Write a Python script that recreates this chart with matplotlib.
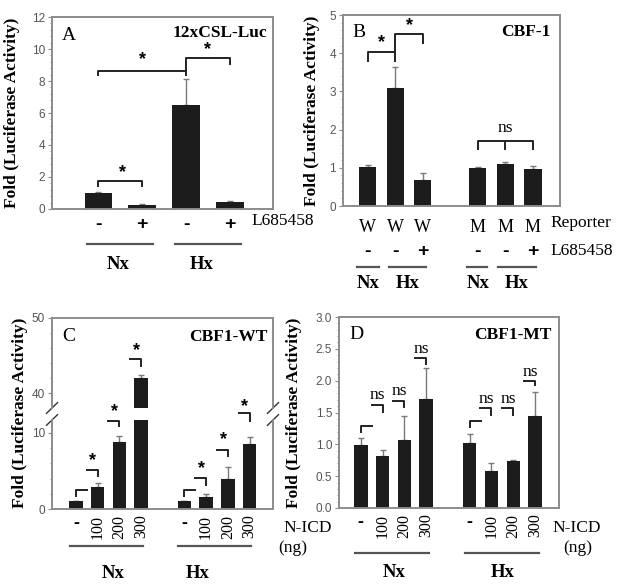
import matplotlib
matplotlib.use('Agg')
import matplotlib.pyplot as plt
from matplotlib.ticker import MultipleLocator, AutoMinorLocator
import matplotlib.transforms as mtransforms

# ---- data ----
a_pos = [0, 1, 2, 3]
a_drug = ['-', '+', '-', '+']
a_means = [1.0, 0.25, 6.5, 0.45]
a_errs = [0.07, 0.05, 1.6, 0.06]

b_pos = [0, 1, 2, 4, 5, 6]
b_reporter = ['W', 'W', 'W', 'M', 'M', 'M']
b_drug = ['-', '-', '+', '-', '-', '+']
b_means = [1.03, 3.1, 0.68, 1.0, 1.1, 0.96]
b_errs = [0.05, 0.54, 0.18, 0.02, 0.04, 0.09]

cd_pos = [0, 1, 2, 3, 5, 6, 7, 8]
cd_dose = ['-', '100', '200', '300', '-', '100', '200', '300']
c_means = [1.0, 2.9, 8.8, 42.0, 1.0, 1.6, 4.0, 8.6]
c_errs = [0.1, 0.5, 0.8, 0.4, 0.1, 0.4, 1.5, 0.9]
d_means = [0.99, 0.82, 1.07, 1.71, 1.02, 0.58, 0.74, 1.45]
d_errs = [0.11, 0.09, 0.38, 0.49, 0.14, 0.12, 0.01, 0.37]

# bracket heights: (horizontal, leg end, label) per bar; control bars have no label
c_brackets = [(2.5, 1.6, None), (5.1, 4.2, 6.3), (11.6, 10.8, 12.8), (44.5, 43.5, 45.7),
              (2.5, 1.6, None), (4.1, 3.0, 5.3), (7.8, 6.8, 9.1), (12.6, 11.4, 13.4)]
d_brackets = [(1.29, 1.18, None), (1.62, 1.49, 1.77), (1.68, 1.57, 1.84), (2.35, 2.24, 2.5),
              (1.37, 1.26, None), (1.57, 1.44, 1.71), (1.57, 1.44, 1.71), (2.0, 1.92, 2.13)]

SERIF = 'Liberation Serif'
SANS = 'Liberation Sans'
BAR = '#1c1c1c'
SPINE = '#8c8c8c'
ERR = '#7a7a7a'
FS = 12.5

plt.rcParams['font.family'] = SANS

fig = plt.figure(figsize=(6.24, 5.87), dpi=100)


def px(l, t, r, b):
    W, H = 624.0, 587.0
    return [l / W, 1 - b / H, (r - l) / W, (b - t) / H]


def style(ax, major, minor_n=5):
    for s in ax.spines.values():
        s.set_color(SPINE)
        s.set_linewidth(1.4)
    ax.yaxis.set_major_locator(MultipleLocator(major))
    ax.yaxis.set_minor_locator(AutoMinorLocator(minor_n))
    ax.tick_params(axis='y', which='major', length=3, color=SPINE, labelsize=8.5,
                   labelcolor='#555555', pad=2)
    ax.tick_params(axis='y', which='minor', length=1.5, color=SPINE)
    ax.tick_params(axis='x', length=0)


def bars(ax, pos, means, errs, width=0.62):
    ax.bar(pos, means, width=width, color=BAR, zorder=2)
    ax.errorbar(pos, means, yerr=[[0] * len(errs), errs], fmt='none', ecolor=ERR,
                elinewidth=1.0, capsize=2.5, capthick=1.0, zorder=1)


def line(ax, xs, ys, **kw):
    ax.plot(xs, ys, color='#222222', lw=1.4, clip_on=False, solid_capstyle='butt', **kw)


def star(ax, x, y, s='*'):
    if s == '*':
        ax.text(x, y, s, ha='center', va='center', fontsize=13, fontweight='bold',
                family=SANS, clip_on=False)
    else:
        ax.text(x, y, s, ha='center', va='center', fontsize=FS, family=SERIF, clip_on=False)


def group_line(ax, x0, x1, y):
    trans = mtransforms.blended_transform_factory(ax.transData, ax.transAxes)
    ax.plot([x0, x1], [y, y], color='#555555', lw=1.6, transform=trans, clip_on=False)


def group_text(ax, x, y, s, **kw):
    trans = mtransforms.blended_transform_factory(ax.transData, ax.transAxes)
    kw.setdefault('ha', 'center')
    kw.setdefault('family', SERIF)
    ax.text(x, y, s, transform=trans, va='center', **kw)


# ---------------- Panel A ----------------
axA = fig.add_axes(px(52, 17, 273, 209))
bars(axA, a_pos, a_means, a_errs)
axA.set_xlim(-1.05, 3.98)
axA.set_ylim(0, 12)
style(axA, 2)
axA.set_xticks(a_pos)
axA.set_xticklabels(a_drug, fontsize=14, fontweight='bold', family=SANS)
axA.tick_params(axis='x', pad=5)
axA.set_ylabel('Fold (Luciferase Activity)', family=SERIF, fontweight='bold', fontsize=FS)
axA.yaxis.set_label_coords(-0.145, 0.5)
axA.text(0.045, 0.905, 'A', transform=axA.transAxes, family=SERIF, fontsize=14, va='center')
axA.text(0.975, 0.915, '12xCSL-Luc', transform=axA.transAxes, family=SERIF, fontsize=FS,
         fontweight='bold', ha='right', va='center')
line(axA, [0, 0, 1, 1], [1.4, 1.75, 1.75, 1.4])
star(axA, 0.55, 2.25)
line(axA, [0, 0, 2, 2], [8.3, 8.64, 8.64, 8.3])
star(axA, 1.0, 9.35)
line(axA, [2, 2, 3, 3], [8.64, 9.42, 9.42, 9.0])
star(axA, 2.5, 9.95)
group_text(axA, 3.5, -0.0625, 'L685458', ha='left', fontsize=FS)
group_line(axA, -0.25, 1.25, -0.182)
group_line(axA, 1.75, 3.25, -0.182)
group_text(axA, 0.45, -0.29, 'Nx', fontsize=FS + 1, fontweight='bold')
group_text(axA, 2.35, -0.29, 'Hx', fontsize=FS + 1, fontweight='bold')

# ---------------- Panel B ----------------
axB = fig.add_axes(px(343, 15, 560, 206))
bars(axB, b_pos, b_means, b_errs)
axB.set_xlim(-0.9, 6.98)
axB.set_ylim(0, 5)
style(axB, 1)
axB.set_xticks(b_pos)
axB.set_xticklabels(b_reporter, fontsize=FS + 0.5, family=SERIF)
axB.tick_params(axis='x', pad=9)
axB.set_ylabel('Fold (Luciferase Activity)', family=SERIF, fontweight='bold', fontsize=FS)
axB.yaxis.set_label_coords(-0.106, 0.5)
axB.text(0.045, 0.91, 'B', transform=axB.transAxes, family=SERIF, fontsize=14, va='center')
axB.text(0.955, 0.91, 'CBF-1', transform=axB.transAxes, family=SERIF, fontsize=FS,
         fontweight='bold', ha='right', va='center')
line(axB, [0, 0, 1], [3.77, 4.03, 4.03])
line(axB, [1, 1, 2, 2], [3.77, 4.51, 4.51, 4.25])
star(axB, 0.5, 4.27)
star(axB, 1.5, 4.72)
line(axB, [4, 4, 6, 6], [1.46, 1.70, 1.70, 1.46])
line(axB, [5, 5], [1.70, 1.46])
star(axB, 5, 2.05, 'ns')
for x, s in zip(b_pos, b_drug):
    group_text(axB, x, -0.236, s, fontsize=14, fontweight='bold', family=SANS)
group_text(axB, 6.65, -0.089, 'Reporter', ha='left', fontsize=FS)
group_text(axB, 6.65, -0.236, 'L685458', ha='left', fontsize=FS)
group_line(axB, -0.4, 0.4, -0.319)
group_line(axB, 0.76, 2.1, -0.319)
group_line(axB, 3.6, 4.33, -0.319)
group_line(axB, 4.73, 6.1, -0.319)
group_text(axB, 0.0, -0.405, 'Nx', fontsize=FS + 1, fontweight='bold')
group_text(axB, 1.45, -0.405, 'Hx', fontsize=FS + 1, fontweight='bold')
group_text(axB, 4.0, -0.405, 'Nx', fontsize=FS + 1, fontweight='bold')
group_text(axB, 5.4, -0.405, 'Hx', fontsize=FS + 1, fontweight='bold')

# ---------------- Panel C (broken axis) ----------------
axCt = fig.add_axes(px(52, 318, 273, 408))
axCb = fig.add_axes(px(52, 420, 273, 509))
for ax in (axCt, axCb):
    bars(ax, cd_pos, c_means, c_errs)
    ax.set_xlim(-1.1, 9.08)
axCt.set_ylim(38, 50)
axCb.set_ylim(0, 11.7)
style(axCt, 10)
style(axCb, 10)
axCt.spines['bottom'].set_visible(False)
axCb.spines['top'].set_visible(False)
axCt.set_xticks([])
axCb.set_xticks(cd_pos)
axCb.set_xticklabels(cd_dose, fontsize=11.5, family=SERIF, rotation=90, va='top')
for lab in axCb.get_xticklabels():
    if lab.get_text() == '-':
        lab.set_rotation(0)
        lab.set_fontsize(13)
        lab.set_fontweight('bold')
axCb.tick_params(axis='x', pad=4)
fig.text(20 / 624, 1 - 413 / 587, 'Fold (Luciferase Activity)', rotation=90, ha='center',
         va='center', family=SERIF, fontweight='bold', fontsize=FS)
axCt.text(0.045, 0.79, 'C', transform=axCt.transAxes, family=SERIF, fontsize=14, va='center')
axCt.text(0.975, 0.79, 'CBF1-WT', transform=axCt.transAxes, family=SERIF, fontsize=FS,
          fontweight='bold', ha='right', va='center')
# break marks
for ax, yb in ((axCt, 0.0), (axCb, 1.0)):
    for xb in (0.0, 1.0):
        ax.plot([xb - 0.025, xb + 0.025], [yb - 0.06, yb + 0.06], transform=ax.transAxes,
                color='#333333', lw=1.0, clip_on=False)

for i, (x, (yh, yl, ys)) in enumerate(zip(cd_pos, c_brackets)):
    ax = axCt if yh > 30 else axCb
    if ys is None:
        line(ax, [x, x, x + 0.55], [yl, yh, yh])
    else:
        line(ax, [x - 0.55, x, x], [yh, yh, yl])
        star(ax, x - 0.22, ys)

group_text(axCb, 9.54, -0.21, 'N-ICD', ha='left', fontsize=FS)
group_text(axCb, 10.0, -0.44, '(ng)', fontsize=FS)
group_line(axCb, -0.28, 3.07, -0.416)
group_line(axCb, 4.7, 8.06, -0.416)
group_text(axCb, 1.7, -0.73, 'Nx', fontsize=FS + 1, fontweight='bold')
group_text(axCb, 5.6, -0.73, 'Hx', fontsize=FS + 1, fontweight='bold')

# ---------------- Panel D ----------------
axD = fig.add_axes(px(339, 317, 559, 508))
bars(axD, cd_pos, d_means, d_errs)
axD.set_xlim(-1.0, 9.1)
axD.set_ylim(0, 3.0)
style(axD, 0.5)
axD.yaxis.set_major_formatter(matplotlib.ticker.FormatStrFormatter('%.1f'))
axD.set_xticks(cd_pos)
axD.set_xticklabels(cd_dose, fontsize=11.5, family=SERIF, rotation=90, va='top')
for lab in axD.get_xticklabels():
    if lab.get_text() == '-':
        lab.set_rotation(0)
        lab.set_fontsize(13)
        lab.set_fontweight('bold')
axD.tick_params(axis='x', pad=4)
axD.set_ylabel('Fold (Luciferase Activity)', family=SERIF, fontweight='bold', fontsize=FS)
axD.yaxis.set_label_coords(-0.168, 0.5)
axD.text(0.045, 0.906, 'D', transform=axD.transAxes, family=SERIF, fontsize=14, va='center')
axD.text(0.965, 0.906, 'CBF1-MT', transform=axD.transAxes, family=SERIF, fontsize=FS,
         fontweight='bold', ha='right', va='center')
for x, (yh, yl, ys) in zip(cd_pos, d_brackets):
    if ys is None:
        line(axD, [x, x, x + 0.55], [yl, yh, yh])
    else:
        line(axD, [x - 0.55, x, x], [yh, yh, yl])
        star(axD, x - 0.22, ys, 'ns')

group_text(axD, 8.8, -0.105, 'N-ICD', ha='left', fontsize=FS)
group_text(axD, 9.96, -0.21, '(ng)', fontsize=FS)
group_line(axD, -0.28, 3.13, -0.236)
group_line(axD, 4.8, 8.2, -0.236)
group_text(axD, 1.52, -0.34, 'Nx', fontsize=FS + 1, fontweight='bold')
group_text(axD, 6.5, -0.34, 'Hx', fontsize=FS + 1, fontweight='bold')

fig.savefig('out.png', dpi=100)
plt.close(fig)
